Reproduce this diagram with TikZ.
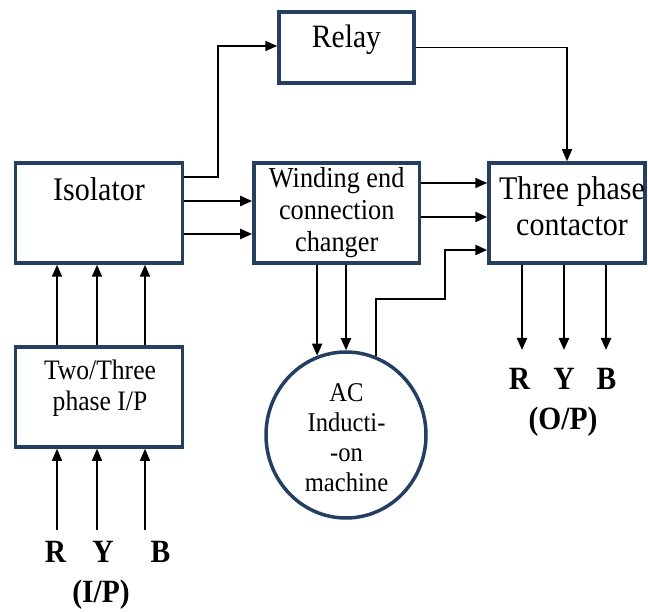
\documentclass[tikz,border=0pt]{standalone}
\usepackage{fontspec}
\setmainfont{Liberation Serif}
\newfontfamily\tnr{Liberation Serif}
\usetikzlibrary{arrows.meta,shapes.geometric}
\definecolor{navy}{RGB}{36,63,96}
\newcommand\vs[1]{\scalebox{1}[1.1]{#1}}
\begin{document}
\begin{tikzpicture}[x=1pt,y=-1pt,
  box/.style={draw=navy,line width=3.5pt,rectangle,inner sep=0pt,fill=white},
  arr/.style={-{Triangle[length=12pt,width=10pt]},line width=1.8pt},
  thick arr/.style={arr,line width=2.4pt},
  lbl/.style={inner sep=0pt},
  big/.style={lbl,font=\tnr\bfseries\fontsize{29.5}{34}\selectfont}]
\useasboundingbox[fill=white] (0,0) rectangle (648,612);

% boxes
\node[box,minimum width=135pt,minimum height=71pt] (relay) at (346.5,47.5) {};
\node[lbl,font=\tnr\fontsize{29.6}{34}\selectfont] (relayt) at (346.5,40) {\vs{Relay}};

\node[box,minimum width=167pt,minimum height=100pt] (iso) at (99,213) {};
\node[lbl,font=\tnr\fontsize{30}{34}\selectfont] (isot) at (99,189) {\vs{Isolator}};

\node[box,minimum width=165.5pt,minimum height=100pt,align=center,
      font=\tnr\fontsize{26.3}{32}\selectfont] (wec) at (336.7,213) {\vs{Winding end}\\\vs{connection}\\\vs{changer}};

\node[box,minimum width=156pt,minimum height=100pt] (tpc) at (567,213) {};
\node[lbl,align=center,font=\tnr\fontsize{30}{35.5}\selectfont] (tpct) at (572,206) {\vs{Three phase}\\\vs{contactor}};

\node[box,minimum width=167pt,minimum height=100pt] (two) at (99,397) {};
\node[lbl,align=center,font=\tnr\fontsize{25.6}{31}\selectfont] (twot) at (100,388) {\vs{Two/Three}\\\vs{phase I/P}};

\node[draw=navy,line width=3.5pt,ellipse,inner sep=0pt,minimum width=160pt,minimum height=166pt] (motor) at (346,435) {};
\node[lbl,align=center,font=\tnr\fontsize{24.6}{30}\selectfont] (motort) at (346.5,437.5) {\vs{AC}\\\vs{Inducti-}\\\vs{-on}\\\vs{machine}};

% helper coordinates
\coordinate (k1) at (218,177);
\coordinate (k2) at (218,46);
\coordinate (r1) at (0,201);
\coordinate (r2) at (0,234);
\coordinate (r3) at (0,183);
\coordinate (r4) at (0,217);
\coordinate (r5) at (0,250);
\coordinate (k3) at (445,299);
\coordinate (c1) at (57,0);
\coordinate (c2) at (97,0);
\coordinate (c3) at (145,0);
\coordinate (in1) at (57,530);
\coordinate (in2) at (97,530);
\coordinate (in3) at (145,530);
\coordinate (o1) at (522,350);
\coordinate (o2) at (564,350);
\coordinate (o3) at (606,350);

% connectors
\draw[arr] (iso.east |- k1) -- (k1) -- (k2) -- (relay.west |- k2);
\draw[arr,line width=1.6pt] (relay.east) -| (tpc.north);
\draw[thick arr] (iso.east |- r1) -- (wec.west |- r1);
\draw[thick arr] (iso.east |- r2) -- (wec.west |- r2);
\draw[arr] (wec.east |- r3) -- (tpc.west |- r3);
\draw[thick arr] (wec.east |- r4) -- (tpc.west |- r4);
\draw[thick arr] (motor.69) |- (k3) |- (tpc.west |- r5);
\draw[arr] (wec.south -| motor.110) -- (motor.110);
\draw[arr] (wec.south -| motor.north) -- (motor.north);

\draw[arr] (two.north -| c1) -- (iso.south -| c1);
\draw[arr] (two.north -| c2) -- (iso.south -| c2);
\draw[arr] (two.north -| c3) -- (iso.south -| c3);

\draw[arr,line width=1.5pt] (in1) -- (two.south -| in1);
\draw[arr,line width=1.5pt] (in2) -- (two.south -| in2);
\draw[arr,line width=1.5pt] (in3) -- (two.south -| in3);

\draw[arr,line width=2.2pt] (tpc.south -| o1) -- (o1);
\draw[arr,line width=2.2pt] (tpc.south -| o2) -- (o2);
\draw[arr,line width=2.2pt] (tpc.south -| o3) -- (o3);

% labels
\node[big] (iR) at (55.5,552) {\vs{R}};
\node[big] (iY) at (103,552) {\vs{Y}};
\node[big] (iB) at (160.5,552) {\vs{B}};
\node[big] (iIP) at (101,595) {\vs{(I/P)}};

\node[big] (oR) at (519.5,378.5) {\vs{R}};
\node[big] (oY) at (564,378.5) {\vs{Y}};
\node[big] (oB) at (606.5,378.5) {\vs{B}};
\node[big] (oOP) at (563,422) {\vs{(O/P)}};
\end{tikzpicture}
\end{document}
